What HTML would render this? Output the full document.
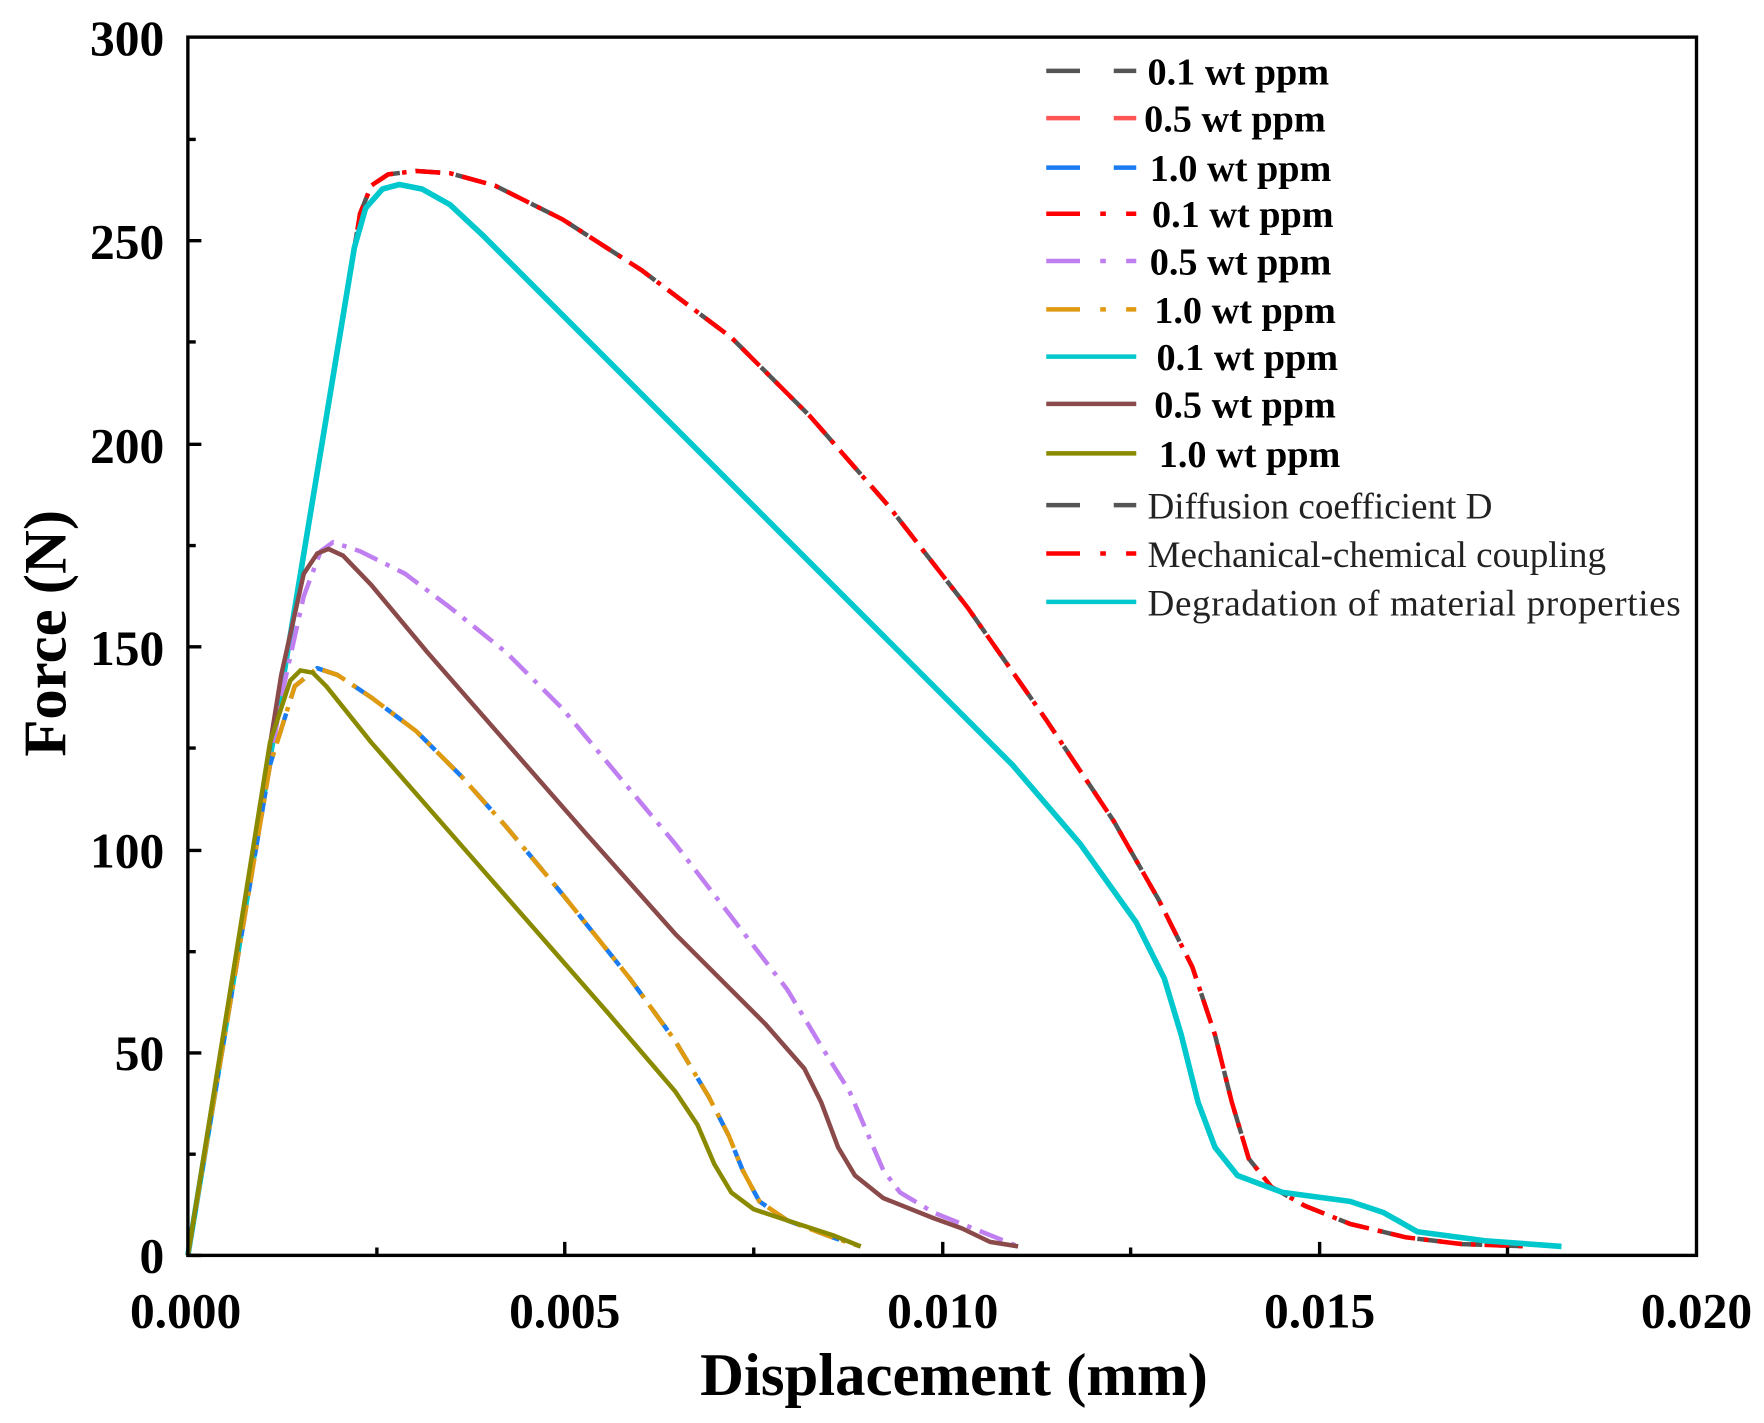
<!DOCTYPE html>
<html><head><meta charset="utf-8"><style>
html,body{margin:0;padding:0;background:#fff;}
svg{display:block;}
text{font-family:"Liberation Serif",serif;}
</style></head><body>
<svg width="1764" height="1423" viewBox="0 0 1568 1265" preserveAspectRatio="none" xmlns="http://www.w3.org/2000/svg">
<rect width="1568" height="1265" fill="#fff"/>
<g fill="none" stroke-linejoin="round" stroke-linecap="butt">
<polyline points="167,1116 320,190 330,165 345,155 370,152 400,154 440,165 500,195 570,240 650,300 720,370 790,450 860,540 930,640 990,730 1030,800 1060,860 1080,920 1095,980 1110,1030 1130,1055 1160,1072 1200,1088 1250,1100 1300,1106 1360,1108" stroke="#555" stroke-width="4" stroke-dasharray="22,14"/>
<polyline points="167,1116 320,190 330,165 345,155 370,152 400,154 440,165 500,195 570,240 650,300 720,370 790,450 860,540 930,640 990,730 1030,800 1060,860 1080,920 1095,980 1110,1030 1130,1055 1160,1072 1200,1088 1250,1100 1300,1106 1360,1108" stroke="#f00" stroke-width="4" stroke-dasharray="22,8,4,8"/>
<polyline points="167,1116 315,220 325,185 340,168 355,164 375,168 400,182 430,210 500,280 600,380 700,480 800,580 900,680 960,750 1010,820 1035,870 1050,920 1065,980 1080,1020 1100,1045 1140,1060 1200,1068 1230,1078 1260,1095 1320,1103 1388,1108" stroke="#00c8cc" stroke-width="5"/>
<polyline points="167,1116 250,620 270,530 285,490 296,482 320,490 360,510 400,540 450,580 500,630 550,690 600,750 650,815 700,880 730,930 755,970 770,1005 785,1040 800,1060 830,1078 860,1090 905,1108" stroke="#c07ff0" stroke-width="4" stroke-dasharray="22,8,4,8"/>
<polyline points="167,1116 250,600 270,510 282,492 292,488 305,494 330,520 380,580 450,660 520,740 600,830 680,910 715,950 730,980 745,1020 760,1045 785,1065 830,1083 855,1092 880,1104 905,1108" stroke="#8b4a4a" stroke-width="4"/>
<polyline points="167,1116 240,680 262,610 282,594 300,600 330,620 370,650 410,690 450,735 500,795 560,870 600,925 630,975 648,1010 660,1040 675,1068 700,1085 740,1100 765,1108" stroke="#1a7cf0" stroke-width="4" stroke-dasharray="22,14"/>
<polyline points="167,1116 240,680 262,610 282,594 300,600 330,620 370,650 410,690 450,735 500,795 560,870 600,925 630,975 648,1010 660,1040 675,1068 700,1085 740,1100 765,1108" stroke="#e09a10" stroke-width="4" stroke-dasharray="22,8,4,8"/>
<polyline points="167,1116 240,660 258,605 267,596 278,598 290,610 330,660 400,740 470,820 540,900 600,970 620,1000 635,1035 650,1060 670,1075 700,1085 740,1098 765,1108" stroke="#8a8a00" stroke-width="4"/>
</g>
<rect x="167" y="33" width="1341" height="1083" fill="none" stroke="#000" stroke-width="3"/>
<g stroke="#000" stroke-width="3">
<path d="M167,1116h12M167,1026h7M167,936h12M167,846h7M167,756h12M167,665h7M167,575h12M167,485h7M167,395h12M167,304h7M167,214h12M167,124h7"/>
<path d="M335,1116v-7M502,1116v-12M670,1116v-7M838,1116v-12M1005,1116v-7M1173,1116v-12M1340,1116v-7"/>
</g>
<g font-size="44" font-weight="bold" text-anchor="end">
<text x="146" y="1131">0</text><text x="146" y="951">50</text><text x="146" y="771">100</text>
<text x="146" y="591">150</text><text x="146" y="411">200</text><text x="146" y="230">250</text><text x="146" y="49">300</text>
</g>
<g font-size="44" font-weight="bold" text-anchor="middle">
<text x="165" y="1180">0.000</text><text x="502" y="1180">0.005</text><text x="838" y="1180">0.010</text>
<text x="1173" y="1180">0.015</text><text x="1508" y="1180">0.020</text>
</g>
<text x="848" y="1240" font-size="54" font-weight="bold" text-anchor="middle">Displacement (mm)</text>
<text transform="translate(58,563) rotate(-90)" font-size="54" font-weight="bold" text-anchor="middle">Force (N)</text>
<g stroke-width="4" fill="none">
<path d="M930,63h80" stroke="#555" stroke-dasharray="30,30"/>
<path d="M930,105h80" stroke="#f55" stroke-dasharray="30,30"/>
<path d="M930,149h80" stroke="#1a7cf0" stroke-dasharray="30,30"/>
<path d="M930,190h80" stroke="#f00" stroke-dasharray="30,18,5,18"/>
<path d="M930,232h80" stroke="#c07ff0" stroke-dasharray="30,18,5,18"/>
<path d="M930,275h80" stroke="#e09a10" stroke-dasharray="30,18,5,18"/>
<path d="M930,317h80" stroke="#00c8cc"/>
<path d="M930,359h80" stroke="#8b4a4a"/>
<path d="M930,403h80" stroke="#8a8a00"/>
<path d="M930,449h80" stroke="#555" stroke-dasharray="30,30"/>
<path d="M930,492h80" stroke="#f00" stroke-dasharray="30,18,5,18"/>
<path d="M930,535h80" stroke="#00c8cc"/>
</g>
<g font-size="34" font-weight="bold">
<text x="1020" y="75">0.1 wt ppm</text>
<text x="1017" y="117">0.5 wt ppm</text>
<text x="1022" y="161">1.0 wt ppm</text>
<text x="1024" y="202">0.1 wt ppm</text>
<text x="1022" y="244">0.5 wt ppm</text>
<text x="1026" y="287">1.0 wt ppm</text>
<text x="1028" y="329">0.1 wt ppm</text>
<text x="1026" y="371">0.5 wt ppm</text>
<text x="1030" y="415">1.0 wt ppm</text>
</g>
<g font-size="33" fill="#222">
<text x="1020" y="461">Diffusion coefficient D</text>
<text x="1020" y="504">Mechanical-chemical coupling</text>
<text x="1020" y="547" textLength="474">Degradation of material properties</text>
</g>
</svg>
</body></html>
